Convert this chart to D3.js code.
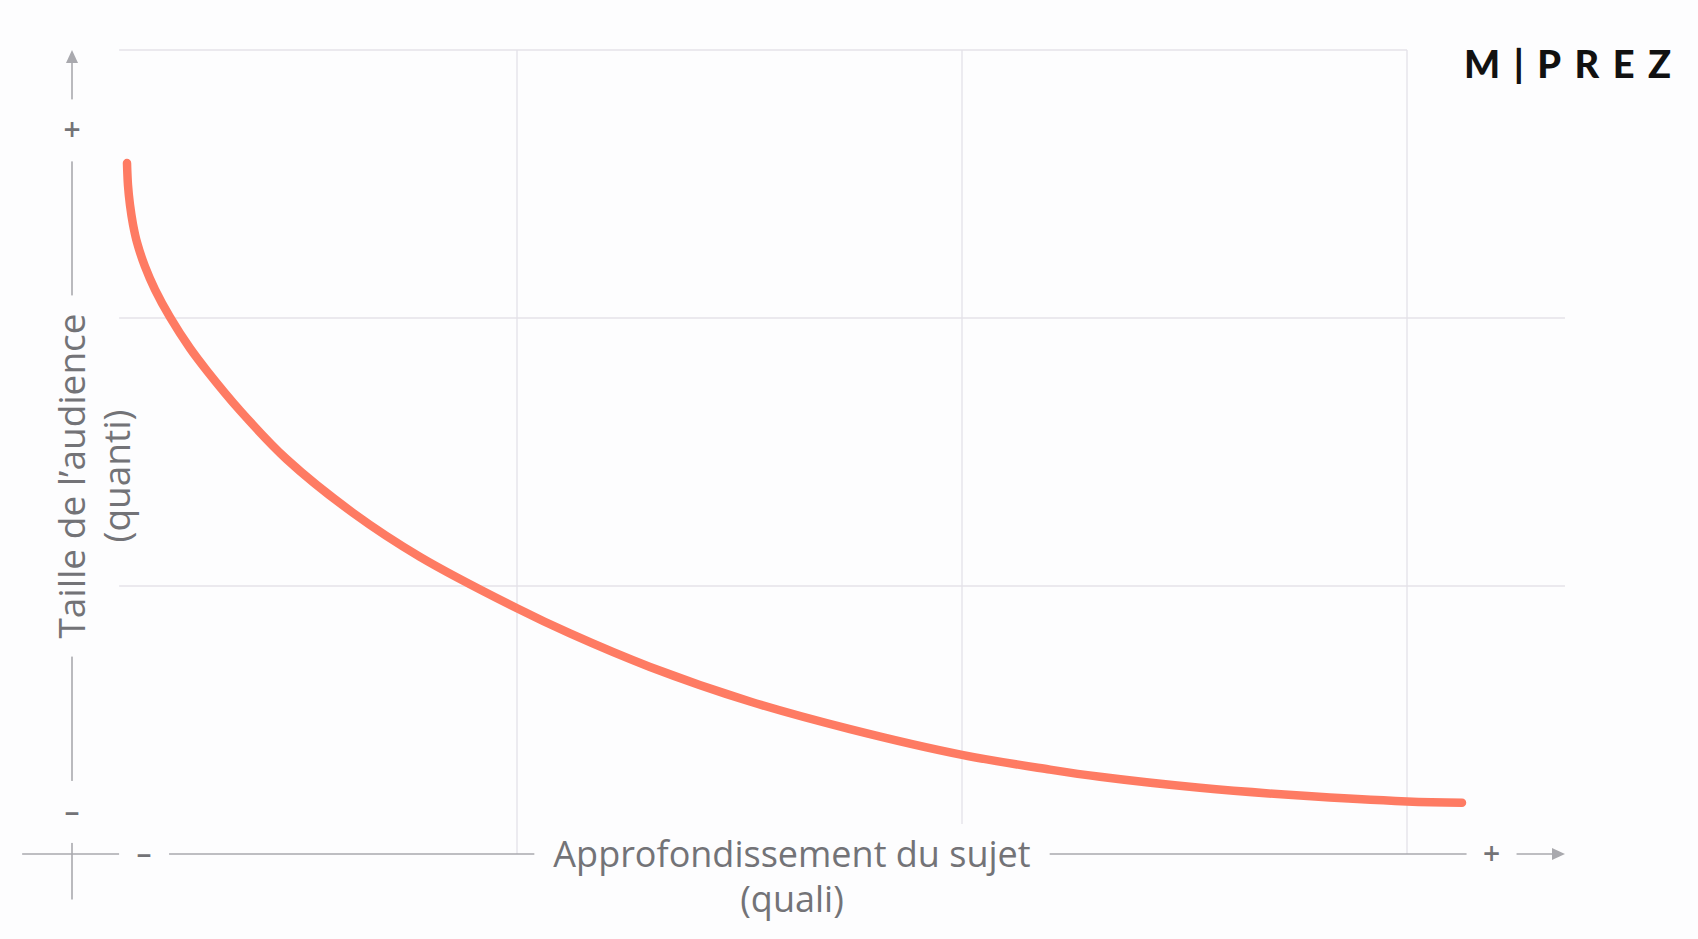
<!DOCTYPE html>
<html>
<head>
<meta charset="utf-8">
<script src="https://cdn.jsdelivr.net/npm/d3@7"></script>
<style>
  html, body { margin: 0; padding: 0; background: #fdfdfe; }
  svg { display: block; }
</style>
</head>
<body>
<script>
// ---------- DATA ----------
// x : "Approfondissement du sujet" (quali), y : "Taille de l'audience" (quanti), arbitrary units
const curveX = [0.1236, 0.1258, 0.1303, 0.1371, 0.1461, 0.1640, 0.1865, 0.2202, 0.2652, 0.3034, 0.3775, 0.4831, 0.6315, 0.7820, 1.0000, 1.1191, 1.2989, 1.5236, 1.7483, 2.0000, 2.1978, 2.3101, 2.5348, 2.7596, 3.0000, 3.1236];
const curveY = [2.578, 2.496, 2.422, 2.349, 2.282, 2.192, 2.106, 2.003, 1.887, 1.803, 1.655, 1.472, 1.273, 1.109, 0.917, 0.823, 0.698, 0.569, 0.466, 0.370, 0.315, 0.288, 0.247, 0.218, 0.196, 0.191];
const xGridValues = [1, 2, 3];
const yGridValues = [1, 2, 3];
const xTickLabels = [{ v: 0.162, t: "–" }, { v: 3.19, t: "+" }];
const yTickLabels = [{ v: 0.157, t: "–" }, { v: 2.70, t: "+" }];
const xTitle = ["Approfondissement du sujet", "(quali)"];
const yTitle = ["Taille de l’audience", "(quanti)"];
const logoText = "M|PREZ";

// ---------- SETUP ----------
const W = 1698, H = 939;
const BG = "#fdfdfe";
const GRID = "#e4e2e8";
const AXIS = "#a9a9ae";
const TEXT = "#737377";
const LINE = "#fe7b63";
const FONT = "'Open Sans', 'Noto Sans', sans-serif";

const x = d3.scaleLinear().domain([0, 3]).range([72, 1407]);
const y = d3.scaleLinear().domain([0, 3]).range([854, 50]);

const svg = d3.select("body").append("svg").attr("width", W).attr("height", H);
svg.append("rect").attr("width", W).attr("height", H).attr("fill", BG);

// ---------- GRID ----------
const grid = svg.append("g").attr("stroke", GRID).attr("stroke-width", 1.3);
grid.selectAll("line.v").data(xGridValues).join("line").attr("class", "v")
  .attr("x1", d => x(d)).attr("x2", d => x(d))
  .attr("y1", y(3)).attr("y2", y(0));
grid.selectAll("line.h").data(yGridValues).join("line").attr("class", "h")
  .attr("x1", x(0.106))
  .attr("x2", d => d === 3 ? x(3) : x(3.355))
  .attr("y1", d => y(d)).attr("y2", d => y(d));

// ---------- AXES ----------
const axes = svg.append("g").attr("stroke", AXIS).attr("stroke-width", 1.6).attr("fill", "none");
axes.append("line").attr("x1", x(0)).attr("x2", x(0)).attr("y1", y(3) + 10).attr("y2", y(-0.17));
axes.append("line").attr("x1", x(-0.112)).attr("x2", x(3.355) - 10).attr("y1", y(0)).attr("y2", y(0));
// arrow heads
svg.append("path").attr("fill", AXIS)
  .attr("d", `M${x(0)},${y(3)} L${x(0) - 6},${y(3) + 13} L${x(0) + 6},${y(3) + 13} Z`);
svg.append("path").attr("fill", AXIS)
  .attr("d", `M${x(3.355)},${y(0)} L${x(3.355) - 13},${y(0) - 6} L${x(3.355) - 13},${y(0) + 6} Z`);

// gaps in axes behind labels
const gaps = svg.append("g").attr("fill", BG);
yTickLabels.forEach(d => gaps.append("rect")
  .attr("x", x(0) - 10).attr("width", 20)
  .attr("y", y(d.v) - 31).attr("height", 62));
xTickLabels.forEach(d => gaps.append("rect")
  .attr("x", x(d.v) - 25).attr("width", 50)
  .attr("y", y(0) - 10).attr("height", 20));

// ---------- CURVE ----------
const pts = curveX.map((v, i) => [v, curveY[i]]);
const line = d3.line().x(d => x(d[0])).y(d => y(d[1])).curve(d3.curveCatmullRom.alpha(0.5));
svg.append("path").datum(pts)
  .attr("d", line)
  .attr("fill", "none")
  .attr("stroke", LINE)
  .attr("stroke-width", 8.5)
  .attr("stroke-linecap", "round")
  .attr("stroke-linejoin", "round");

// ---------- TICK LABELS ----------
const tickStyle = sel => sel.attr("font-family", FONT).attr("font-size", 30)
  .attr("font-weight", 600).attr("fill", TEXT).attr("text-anchor", "middle");
svg.selectAll("text.yt").data(yTickLabels).join("text").attr("class", "yt")
  .call(tickStyle)
  .attr("x", x(0)).attr("y", d => y(d.v) + 10).text(d => d.t);
svg.selectAll("text.xt").data(xTickLabels).join("text").attr("class", "xt")
  .call(tickStyle)
  .attr("x", d => x(d.v)).attr("y", y(0) + 10).text(d => d.t);

// ---------- AXIS TITLES ----------
const xCenter = 792;
const xt = svg.append("g");
const xBgRect = xt.append("rect").attr("fill", BG);
const xTexts = xt.selectAll("text").data(xTitle).join("text")
  .attr("font-family", FONT).attr("font-size", 36)
  .attr("fill", TEXT).attr("text-anchor", "middle")
  .attr("x", xCenter).attr("y", (d, i) => y(0) + 13 + i * 45)
  .text(d => d);
{
  const w = xTexts.nodes()[0].getComputedTextLength();
  xBgRect.attr("x", xCenter - w / 2 - 19).attr("width", w + 38)
    .attr("y", y(0) - 30).attr("height", 110);
}

const yCenter = 476;
const yt = svg.append("g");
const yBgRect = yt.append("rect").attr("fill", BG);
const yTexts = yt.selectAll("text").data(yTitle).join("text")
  .attr("font-family", FONT).attr("font-size", 37)
  .attr("fill", TEXT).attr("text-anchor", "middle")
  .attr("transform", (d, i) => `translate(${x(0) + 13 + i * 45},${yCenter}) rotate(-90)`)
  .text(d => d);
{
  const w = yTexts.nodes()[0].getComputedTextLength();
  yBgRect.attr("x", x(0) - 10).attr("width", 20)
    .attr("y", yCenter - w / 2 - 18).attr("height", w + 36);
}

// ---------- LOGO ----------
svg.append("text")
  .attr("x", 1464).attr("y", 78)
  .attr("font-family", "'Lato', 'Open Sans', sans-serif")
  .attr("font-size", 38).attr("font-weight", 900)
  .attr("fill", "#111")
  .attr("textLength", 207).attr("lengthAdjust", "spacing")
  .text(logoText);
</script>
</body>
</html>
